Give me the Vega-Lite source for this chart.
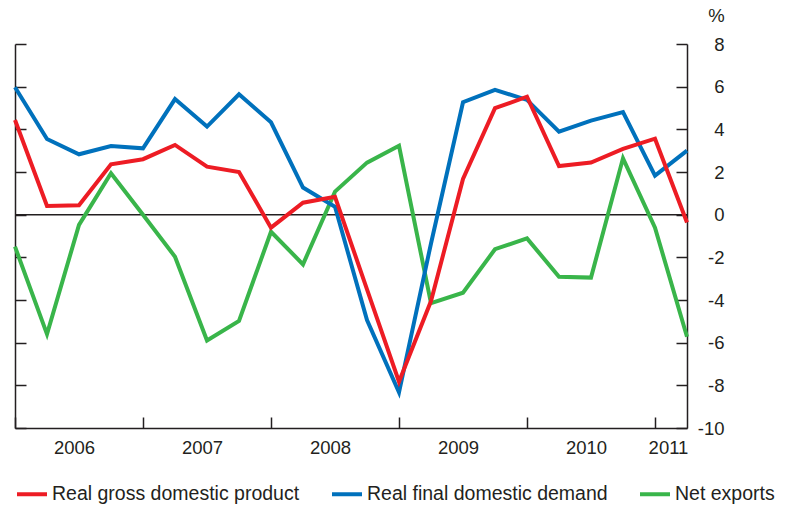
{
  "$schema": "https://vega.github.io/schema/vega-lite/v6.json",
  "autosize": "none",
  "width": 672,
  "height": 384,
  "padding": {"left": 15, "top": 44, "right": 104, "bottom": 78},
  "background": "white",
  "config": {
    "view": {"stroke": null},
    "font": "Liberation Sans",
    "axis": {
      "domainColor": "#231f20",
      "domainWidth": 1.5,
      "tickColor": "#231f20",
      "tickWidth": 1.5,
      "labelColor": "#231f20",
      "labelFont": "Liberation Sans",
      "labelFontSize": 18.5,
      "grid": false
    }
  },
  "datasets": {
    "series": [
      {"q": 0, "series": "Net exports", "value": -1.5},
      {"q": 1, "series": "Net exports", "value": -5.6},
      {"q": 2, "series": "Net exports", "value": -0.48},
      {"q": 3, "series": "Net exports", "value": 1.94},
      {"q": 4, "series": "Net exports", "value": 0.0},
      {"q": 5, "series": "Net exports", "value": -1.97},
      {"q": 6, "series": "Net exports", "value": -5.9},
      {"q": 7, "series": "Net exports", "value": -4.98},
      {"q": 8, "series": "Net exports", "value": -0.8},
      {"q": 9, "series": "Net exports", "value": -2.33},
      {"q": 10, "series": "Net exports", "value": 1.08},
      {"q": 11, "series": "Net exports", "value": 2.44},
      {"q": 12, "series": "Net exports", "value": 3.23},
      {"q": 13, "series": "Net exports", "value": -4.15},
      {"q": 14, "series": "Net exports", "value": -3.66},
      {"q": 15, "series": "Net exports", "value": -1.62},
      {"q": 16, "series": "Net exports", "value": -1.11},
      {"q": 17, "series": "Net exports", "value": -2.91},
      {"q": 18, "series": "Net exports", "value": -2.95},
      {"q": 19, "series": "Net exports", "value": 2.64},
      {"q": 20, "series": "Net exports", "value": -0.61},
      {"q": 21, "series": "Net exports", "value": -5.72},
      {"q": 0, "series": "Real final domestic demand", "value": 5.97},
      {"q": 1, "series": "Real final domestic demand", "value": 3.55},
      {"q": 2, "series": "Real final domestic demand", "value": 2.83},
      {"q": 3, "series": "Real final domestic demand", "value": 3.22},
      {"q": 4, "series": "Real final domestic demand", "value": 3.11},
      {"q": 5, "series": "Real final domestic demand", "value": 5.42},
      {"q": 6, "series": "Real final domestic demand", "value": 4.13},
      {"q": 7, "series": "Real final domestic demand", "value": 5.64},
      {"q": 8, "series": "Real final domestic demand", "value": 4.33},
      {"q": 9, "series": "Real final domestic demand", "value": 1.27},
      {"q": 10, "series": "Real final domestic demand", "value": 0.37},
      {"q": 11, "series": "Real final domestic demand", "value": -4.94},
      {"q": 12, "series": "Real final domestic demand", "value": -8.33},
      {"q": 13, "series": "Real final domestic demand", "value": -1.35},
      {"q": 14, "series": "Real final domestic demand", "value": 5.27},
      {"q": 15, "series": "Real final domestic demand", "value": 5.85},
      {"q": 16, "series": "Real final domestic demand", "value": 5.38},
      {"q": 17, "series": "Real final domestic demand", "value": 3.89},
      {"q": 18, "series": "Real final domestic demand", "value": 4.41},
      {"q": 19, "series": "Real final domestic demand", "value": 4.81},
      {"q": 20, "series": "Real final domestic demand", "value": 1.83},
      {"q": 21, "series": "Real final domestic demand", "value": 3.0},
      {"q": 0, "series": "Real gross domestic product", "value": 4.44},
      {"q": 1, "series": "Real gross domestic product", "value": 0.41},
      {"q": 2, "series": "Real gross domestic product", "value": 0.44},
      {"q": 3, "series": "Real gross domestic product", "value": 2.36},
      {"q": 4, "series": "Real gross domestic product", "value": 2.6},
      {"q": 5, "series": "Real gross domestic product", "value": 3.27},
      {"q": 6, "series": "Real gross domestic product", "value": 2.25},
      {"q": 7, "series": "Real gross domestic product", "value": 2.0},
      {"q": 8, "series": "Real gross domestic product", "value": -0.61},
      {"q": 9, "series": "Real gross domestic product", "value": 0.56},
      {"q": 10, "series": "Real gross domestic product", "value": 0.84},
      {"q": 11, "series": "Real gross domestic product", "value": -3.5},
      {"q": 12, "series": "Real gross domestic product", "value": -7.83},
      {"q": 13, "series": "Real gross domestic product", "value": -4.05},
      {"q": 14, "series": "Real gross domestic product", "value": 1.67},
      {"q": 15, "series": "Real gross domestic product", "value": 4.99},
      {"q": 16, "series": "Real gross domestic product", "value": 5.53},
      {"q": 17, "series": "Real gross domestic product", "value": 2.28},
      {"q": 18, "series": "Real gross domestic product", "value": 2.44},
      {"q": 19, "series": "Real gross domestic product", "value": 3.08},
      {"q": 20, "series": "Real gross domestic product", "value": 3.56},
      {"q": 21, "series": "Real gross domestic product", "value": -0.37}
    ],
    "zero": [{"value": 0}]
  },
  "layer": [
    {
      "data": {"name": "zero"},
      "mark": {"type": "rule", "color": "#231f20", "strokeWidth": 1.5},
      "encoding": {
        "y": {
          "field": "value",
          "type": "quantitative",
          "scale": {"domain": [-10, 8], "nice": false, "zero": false},
          "axis": {
            "orient": "left",
            "values": [-10, -8, -6, -4, -2, 0, 2, 4, 6, 8],
            "labels": false,
            "tickSize": -11,
            "title": null
          }
        }
      }
    },
    {
      "data": {"name": "series"},
      "mark": {"type": "line", "strokeWidth": 4, "strokeJoin": "miter", "strokeCap": "butt"},
      "encoding": {
        "x": {
          "field": "q",
          "type": "quantitative",
          "scale": {"domain": [0, 21], "nice": false, "zero": false},
          "axis": {
            "values": [0, 4, 8, 12, 16, 20],
            "labelExpr": "'' + (2006 + datum.value / 4)",
            "tickSize": -11,
            "labelPadding": 21,
            "labelFlush": false,
            "labelOverlap": false,
            "labelBound": false,
            "labelOffset": {"condition": {"test": "datum.value == 20", "value": 13}, "value": 59},
            "title": null
          }
        },
        "y": {
          "field": "value",
          "type": "quantitative",
          "scale": {"domain": [-10, 8], "nice": false, "zero": false},
          "axis": {
            "orient": "right",
            "values": [-10, -8, -6, -4, -2, 0, 2, 4, 6, 8],
            "labelExpr": "'' + datum.value",
            "tickSize": -11,
            "labelPadding": 48,
            "labelAlign": "right",
            "labelBaseline": "middle",
            "title": "%",
            "titleAngle": 0,
            "titleX": 29,
            "titleY": -23,
            "titleAlign": "center",
            "titleBaseline": "alphabetic",
            "titleFontSize": 18.5,
            "titleFontWeight": "normal",
            "titleColor": "#231f20",
            "titleFont": "Liberation Sans"
          }
        },
        "color": {
          "field": "series",
          "type": "nominal",
          "scale": {
            "domain": ["Real gross domestic product", "Real final domestic demand", "Net exports"],
            "range": ["#ed1c24", "#0071bc", "#39b54a"]
          },
          "legend": {
            "title": null,
            "orient": "none",
            "legendX": 0,
            "legendY": 433,
            "direction": "horizontal",
            "columns": 3,
            "padding": 0,
            "columnPadding": 24,
            "symbolType": "stroke",
            "symbolSize": 900,
            "symbolStrokeWidth": 4,
            "labelOffset": 3,
            "labelFontSize": 19.5,
            "labelFont": "Liberation Sans",
            "labelColor": "#231f20",
            "labelLimit": 400
          }
        }
      }
    }
  ],
  "resolve": {"axis": {"y": "independent"}}
}
